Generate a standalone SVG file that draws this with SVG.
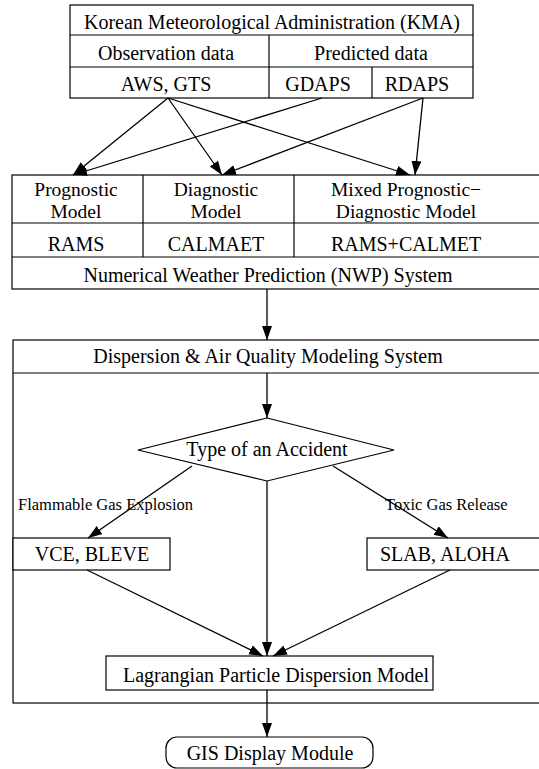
<svg xmlns="http://www.w3.org/2000/svg" width="539" height="769" viewBox="0 0 539 769">
<style>
  .box { fill: #fff; stroke: #000; stroke-width: 1.2; }
  .ln { fill: none; stroke: #000; stroke-width: 1.2; }
  .t { font-family: "Liberation Serif", "Times New Roman", serif; font-size: 20px; fill: #000; text-anchor: middle; }
  .t2 { font-family: "Liberation Serif", "Times New Roman", serif; font-size: 19.5px; fill: #000; text-anchor: middle; }
  .s { font-family: "Liberation Serif", "Times New Roman", serif; font-size: 16.5px; fill: #000; }
  .arr { fill: none; stroke: #000; stroke-width: 1.3; marker-end: url(#ah); }
</style>
<defs>
  <marker id="ah" markerUnits="userSpaceOnUse" markerWidth="15" markerHeight="11" refX="14" refY="5" orient="auto">
    <path d="M0,0 L14,5 L0,10 z" fill="#000"/>
  </marker>
</defs>
<rect width="539" height="769" fill="#fff"/>

<g id="kma">
  <rect class="box" x="70" y="5" width="403" height="93"/>
  <line class="ln" x1="70" y1="35" x2="473" y2="35"/>
  <line class="ln" x1="70" y1="67" x2="473" y2="67"/>
  <line class="ln" x1="269" y1="35" x2="269" y2="98"/>
  <line class="ln" x1="372" y1="67" x2="372" y2="98"/>
  <text class="t" x="272" y="29">Korean Meteorological Administration (KMA)</text>
  <text class="t" x="166" y="60">Observation data</text>
  <text class="t" x="371" y="60">Predicted data</text>
  <text class="t" x="166" y="91">AWS, GTS</text>
  <text class="t" x="318" y="91">GDAPS</text>
  <text class="t" x="417" y="91">RDAPS</text>
</g>

<g id="nwp">
  <rect class="box" x="12" y="175" width="540" height="114"/>
  <line class="ln" x1="12" y1="223" x2="552" y2="223"/>
  <line class="ln" x1="12" y1="257" x2="552" y2="257"/>
  <line class="ln" x1="143" y1="175" x2="143" y2="257"/>
  <line class="ln" x1="294" y1="175" x2="294" y2="257"/>
  <text class="t2" x="76" y="196">Prognostic</text>
  <text class="t2" x="76" y="218">Model</text>
  <text class="t2" x="216" y="196">Diagnostic</text>
  <text class="t2" x="216" y="218">Model</text>
  <text class="t2" x="406" y="196">Mixed Prognostic−</text>
  <text class="t2" x="406" y="218">Diagnostic Model</text>
  <text class="t" x="76" y="251">RAMS</text>
  <text class="t" x="216" y="251">CALMAET</text>
  <text class="t" x="406" y="251">RAMS+CALMET</text>
  <text class="t" x="268" y="282">Numerical Weather Prediction (NWP) System</text>
</g>

<g id="dispersion">
  <rect class="box" x="13" y="340" width="540" height="363"/>
  <line class="ln" x1="13" y1="373" x2="553" y2="373"/>
  <text class="t" x="268" y="363">Dispersion &amp; Air Quality Modeling System</text>
</g>

<g id="accident">
  <polygon class="box" points="267,418 394,450 267,481 138,450"/>
  <text class="t" x="267" y="456">Type of an Accident</text>
</g>

<g id="vce">
  <rect class="box" x="13" y="538" width="157" height="32"/>
  <text class="t" x="92" y="561">VCE, BLEVE</text>
</g>

<g id="slab">
  <rect class="box" x="367" y="538" width="185" height="32"/>
  <text class="t" x="445" y="561">SLAB, ALOHA</text>
</g>

<g id="lagrangian">
  <rect class="box" x="106" y="656" width="327" height="34"/>
  <text class="t" x="276" y="682">Lagrangian Particle Dispersion Model</text>
</g>

<g id="gis">
  <rect class="box" x="166" y="737" width="207" height="31" rx="11" ry="11"/>
  <text class="t" x="270" y="760">GIS Display Module</text>
</g>

<g id="connectors">
  <line class="arr" x1="168" y1="98" x2="73" y2="175"/>
  <line class="arr" x1="168" y1="98" x2="222" y2="175"/>
  <line class="arr" x1="168" y1="98" x2="410" y2="175"/>
  <line class="arr" x1="322" y1="98" x2="73" y2="175"/>
  <line class="arr" x1="423" y1="98" x2="222" y2="175"/>
  <line class="arr" x1="423" y1="98" x2="415" y2="175"/>
  <line class="arr" x1="267" y1="289" x2="267" y2="340"/>
  <line class="arr" x1="267" y1="373" x2="267" y2="418"/>
  <line class="arr" x1="192" y1="466" x2="88" y2="538"/>
  <line class="arr" x1="333" y1="466" x2="448" y2="538"/>
  <line class="arr" x1="267" y1="481" x2="267" y2="656"/>
  <line class="arr" x1="87" y1="570" x2="263" y2="656"/>
  <line class="arr" x1="450" y1="570" x2="273" y2="656"/>
  <line class="arr" x1="267" y1="690" x2="267" y2="737"/>
  <text class="s" x="18" y="510">Flammable Gas Explosion</text>
  <text class="s" x="385" y="510">Toxic Gas Release</text>
</g>
</svg>
